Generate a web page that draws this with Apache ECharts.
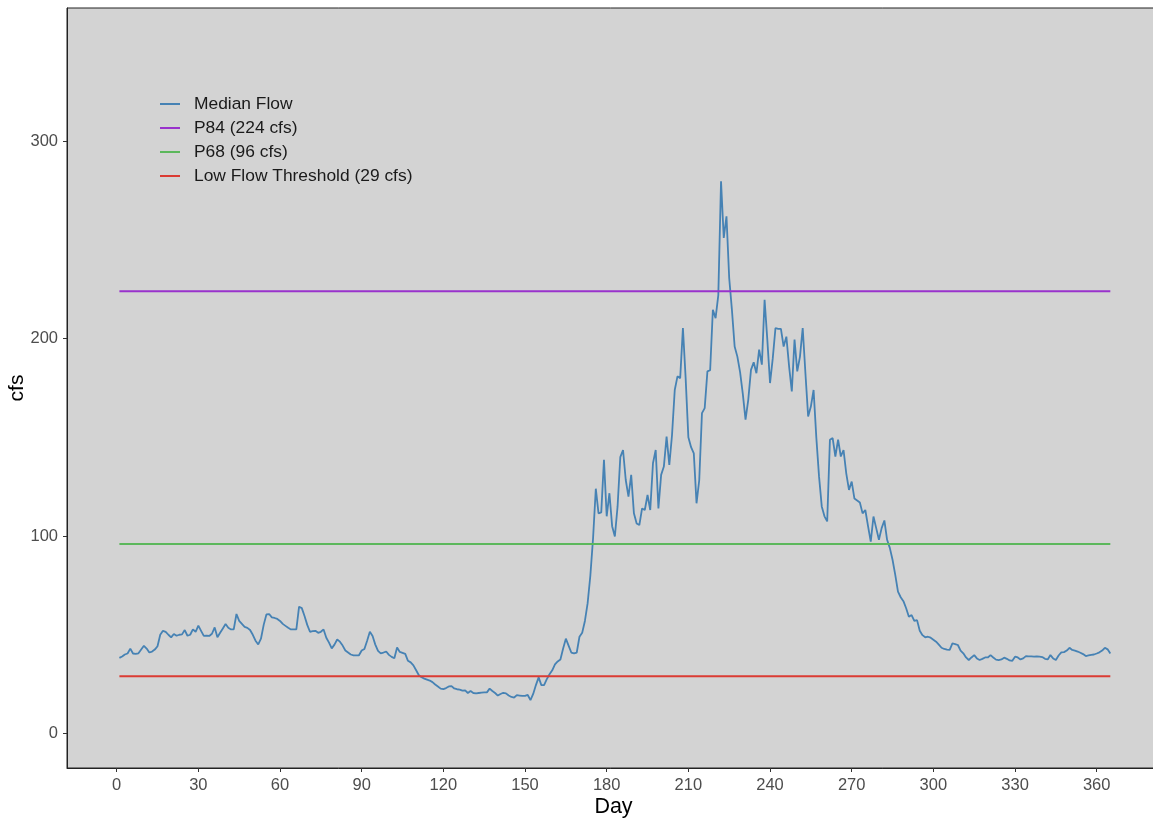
<!DOCTYPE html>
<html>
<head>
<meta charset="utf-8">
<script src="https://cdn.jsdelivr.net/npm/echarts@6/dist/echarts.min.js"></script>
<style>
  html, body { margin: 0; padding: 0; background: #ffffff; }
  #chart { width: 1153px; height: 819px; }
</style>
</head>
<body>
<div id="chart"></div>
<script>
// Daily median streamflow (cfs) for days 1..365
const medianFlow = [
  38.3, 39, 40, 40.5, 43, 40.5, 40.3, 40.6, 42.5, 44.4,
  43, 41, 41.5, 42.5, 44.2, 50, 52, 51.5, 50, 48.7,
  50.4, 49.5, 50, 50.2, 52.4, 49.5, 50, 52.7, 51.5, 54.6,
  52, 49.4, 49.6, 49.4, 50.5, 53.7, 48.7, 51, 53.2, 55.4,
  53.5, 52.7, 52.7, 60.5, 57, 55.5, 54, 53.5, 52.4, 50,
  47, 45.1, 48, 55, 60.3, 60.5, 58.8, 58.5, 58, 57,
  55.5, 54.5, 53.5, 52.7, 52.7, 52.7, 64.2, 63.5, 59.5, 55,
  51.5, 51.8, 52, 51, 51.5, 52.7, 48.5, 46, 43.1, 45,
  47.6, 46.5, 44.5, 42, 41, 40, 39.6, 39.6, 39.6, 42,
  42.8, 47, 51.5, 49.4, 45, 41.8, 40.6, 41, 41.5, 39.8,
  38.8, 38.1, 43.5, 41.3, 40.8, 40.3, 36.8, 36, 34.5, 32,
  29.5, 28.5, 27.8, 27.3, 26.8, 26, 24.8, 23.8, 22.7, 22.5,
  23, 23.8, 24, 22.8, 22.4, 22.2, 21.7, 21.8, 20.5, 21.5,
  20.5, 20.3, 20.5, 20.7, 20.8, 20.8, 22.7, 21.5, 20.5, 19.2,
  20, 20.6, 20.3, 19.2, 18.5, 18.2, 19.4, 19.2, 19, 19,
  19.5, 16.9, 20, 24.5, 28.4, 24.5, 24.5, 27.5, 30, 32,
  35, 36.5, 37.5, 43, 48, 44.5, 41, 40.6, 41, 49,
  51, 57, 66, 80, 99, 124, 111.5, 112, 138.6, 110,
  121.7, 105, 99.8, 115, 140, 143.6, 128.4, 120, 131, 111.5,
  106.4, 105.6, 114, 113.2, 120.8, 113.2, 136.9, 143.6, 114, 131,
  135.2, 150.4, 136, 151.2, 174, 180.9, 180, 205.4, 180, 150,
  145, 141.9, 116.6, 128.4, 162.3, 164.8, 183.4, 184, 214.6, 210.4,
  222, 279.7, 251, 262, 230.7, 214.6, 196, 190.9, 183, 172,
  159, 169, 184.2, 188, 182.5, 194.4, 186.8, 219.7, 199.5, 177.5,
  190, 205.4, 205, 204.9, 196, 201, 186, 173.3, 199.5, 183.4,
  190.9, 205.4, 182.5, 160.6, 165.6, 174, 150, 130.2, 115, 110,
  107.4, 148.8, 149.6, 140.3, 148.8, 140.3, 143.6, 131.8, 123.4, 127.6,
  119, 118, 117, 111.5, 113.2, 105, 97.2, 109.9, 104, 98.1,
  104, 107.9, 98.1, 94, 88, 80.3, 71.8, 69, 67, 63.4,
  59.1, 60, 57, 57.4, 52, 49.8, 48.7, 49, 48.5, 47.5,
  46.5, 45, 43.4, 42.8, 42.5, 42.3, 45.6, 45.3, 44.8, 42,
  40.6, 38.5, 37.2, 38.5, 39.7, 38, 37.2, 37.8, 38.5, 38.5,
  39.7, 38.5, 37.4, 37.2, 37.5, 38.4, 37.8, 37, 36.8, 38.9,
  38.5, 37.5, 38, 39.2, 39, 39, 38.9, 39.1, 38.9, 38.7,
  37.8, 37.5, 39.7, 38, 37.2, 39.5, 41.1, 41.2, 42, 43.4,
  42.3, 42, 41.5, 40.9, 40.2, 39.2, 39.5, 39.8, 40, 40.5,
  41.1, 42, 43.4, 42.6, 40.5
];
const days = medianFlow.map((_, i) => i + 1);

// Flow thresholds (cfs)
const thresholdNames = ['P84 (224 cfs)', 'P68 (96 cfs)', 'Low Flow Threshold (29 cfs)'];
const thresholdValues = [224, 96, 29];
const thresholdColors = ['#9932CC', '#5CB85C', '#DB3B33'];

// Axis ticks
const dayTicks = [0, 30, 60, 90, 120, 150, 180, 210, 240, 270, 300, 330, 360];
const cfsTicks = [0, 100, 200, 300];

const FONT = "'Liberation Sans', Arial, sans-serif";
const firstDay = days[0];
const lastDay = days[days.length - 1];

const series = [{
  name: 'Median Flow',
  type: 'line',
  data: days.map((d, i) => [d, medianFlow[i]]),
  showSymbol: false,
  symbol: 'none',
  lineStyle: { color: '#4682B4', width: 1.8 },
  itemStyle: { color: '#4682B4' },
  animation: false
}];
thresholdNames.forEach((name, i) => {
  series.push({
    name: name,
    type: 'line',
    data: [[firstDay, thresholdValues[i]], [lastDay, thresholdValues[i]]],
    showSymbol: false,
    symbol: 'none',
    lineStyle: { color: thresholdColors[i], width: 2 },
    itemStyle: { color: thresholdColors[i] },
    animation: false
  });
});

const chart = echarts.init(document.getElementById('chart'), null, { renderer: 'canvas' });
chart.setOption({
  animation: false,
  backgroundColor: '#ffffff',
  textStyle: { fontFamily: FONT },
  grid: {
    left: 67, top: 8, width: 1093, bottom: 51,
    outerBoundsMode: 'none',
    show: true,
    backgroundColor: '#d3d3d3',
    borderColor: '#222222',
    borderWidth: 1,
    containLabel: false
  },
  legend: {
    orient: 'vertical',
    left: 155,
    top: 90,
    padding: 5,
    itemWidth: 20,
    itemHeight: 2,
    itemGap: 6,
    icon: 'rect',
    selectedMode: false,
    data: ['Median Flow'].concat(thresholdNames),
    textStyle: { fontFamily: FONT, fontSize: 17.4, color: '#1a1a1a', padding: [0, 0, 0, 9], lineHeight: 18 }
  },
  xAxis: {
    type: 'value',
    min: -18.25,
    max: 383.25,
    name: 'Day',
    nameLocation: 'middle',
    nameGap: 28,
    nameMoveOverlap: false,
    nameTextStyle: { fontFamily: FONT, fontSize: 21.5, color: '#000000' },
    axisLine: { show: true, onZero: false, lineStyle: { color: '#222222', width: 1 } },
    axisTick: { show: true, length: 4, customValues: dayTicks, lineStyle: { color: '#333333' } },
    axisLabel: { customValues: dayTicks, fontSize: 16.5, color: '#4d4d4d', margin: 9, fontFamily: FONT },
    splitLine: { show: false }
  },
  yAxis: {
    type: 'value',
    min: -17.5,
    max: 367.5,
    name: 'cfs',
    nameLocation: 'middle',
    nameGap: 39,
    nameMoveOverlap: false,
    nameRotate: 90,
    nameTextStyle: { fontFamily: FONT, fontSize: 21, color: '#000000' },
    axisLine: { show: true, onZero: false, lineStyle: { color: '#222222', width: 1 } },
    axisTick: { show: true, length: 4, customValues: cfsTicks, lineStyle: { color: '#333333' } },
    axisLabel: { customValues: cfsTicks, fontSize: 16.5, color: '#4d4d4d', margin: 9, fontFamily: FONT },
    splitLine: { show: false }
  },
  series: series
});
</script>
</body>
</html>
